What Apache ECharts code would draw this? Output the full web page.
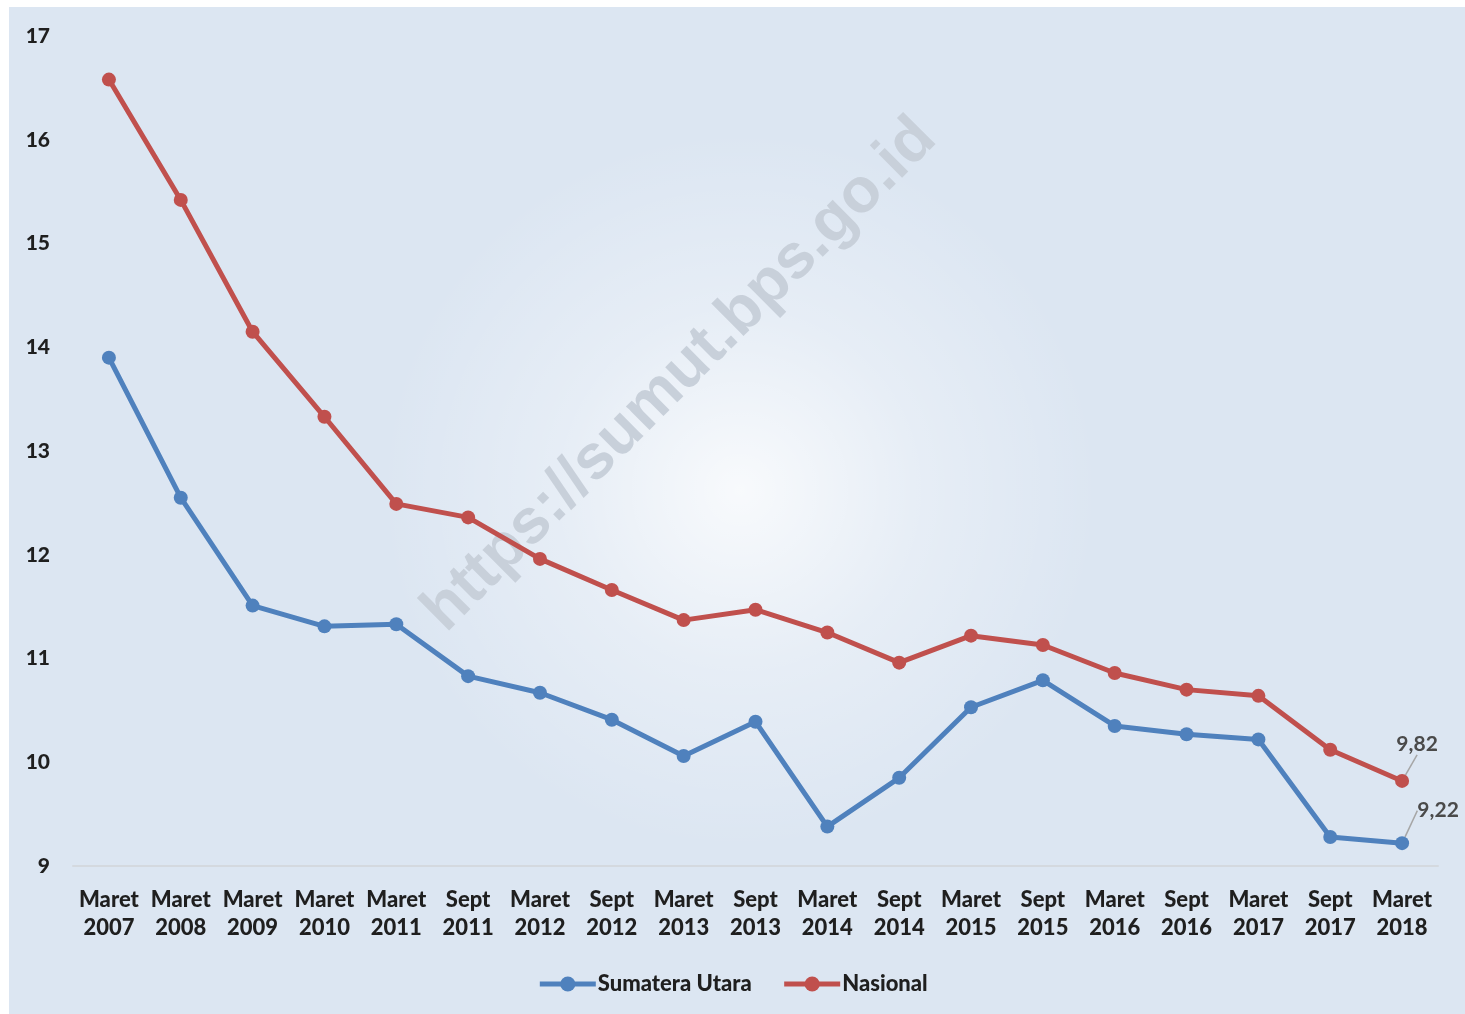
<!DOCTYPE html>
<html>
<head>
<meta charset="utf-8">
<title>Sumatera Utara vs Nasional</title>
<script src="https://cdn.jsdelivr.net/npm/echarts@6/dist/echarts.min.js"></script>
<style>
  html, body { margin: 0; padding: 0; background: #fff; }
  #chart { width: 1465px; height: 1014px; }
</style>
</head>
<body>
<div id="chart"></div>
<script>
// kategori periode
const periods = [
  'Maret\n2007', 'Maret\n2008', 'Maret\n2009', 'Maret\n2010', 'Maret\n2011', 'Sept\n2011',
  'Maret\n2012', 'Sept\n2012', 'Maret\n2013', 'Sept\n2013', 'Maret\n2014', 'Sept\n2014',
  'Maret\n2015', 'Sept\n2015', 'Maret\n2016', 'Sept\n2016', 'Maret\n2017', 'Sept\n2017',
  'Maret\n2018'
]
// persentase penduduk miskin
const sumut = [13.90, 12.55, 11.51, 11.31, 11.33, 10.83, 10.67, 10.41, 10.06, 10.39,
  9.38, 9.85, 10.53, 10.79, 10.35, 10.27, 10.22, 9.28, 9.22]
const nasional = [16.58, 15.42, 14.15, 13.33, 12.49, 12.36, 11.96, 11.66, 11.37, 11.47,
  11.25, 10.96, 11.22, 11.13, 10.86, 10.70, 10.64, 10.12, 9.82]

const FONT = 'Lato, "Open Sans", sans-serif'
const BLUE = '#4f81bd'
const RED = '#c0504d'

// hanya titik terakhir yang diberi label
function withLastLabel(arr) {
  return arr.map((v, i) => i === arr.length - 1
    ? { value: v, label: { show: true }, labelLine: { show: true } }
    : v)
}

const chart = echarts.init(document.getElementById('chart'))

chart.setOption({
  backgroundColor: '#ffffff',
  animation: false,
  graphic: [
    {
      type: 'rect',
      z: -20,
      shape: { x: 9, y: 7, width: 1465, height: 1014 },
      style: { fill: '#dce6f2' }
    },
    {
      type: 'circle',
      z: -19,
      shape: { cx: 740, cy: 490, r: 360 },
      style: {
        fill: {
          type: 'radial', x: 0.5, y: 0.5, r: 0.5,
          colorStops: [
            { offset: 0, color: 'rgba(255,255,255,0.8)' },
            { offset: 0.5, color: 'rgba(255,255,255,0.3)' },
            { offset: 1, color: 'rgba(255,255,255,0)' }
          ]
        }
      }
    },
    {
      // watermark
      type: 'text',
      z: -18,
      x: 680,
      y: 375,
      rotation: Math.PI / 4,
      style: {
        text: 'https://sumut.bps.go.id',
        font: 'bold 63px "Liberation Sans", Arial, sans-serif',
        fill: '#c8d0da',
        align: 'center',
        verticalAlign: 'middle'
      }
    }
  ],
  grid: {
    left: 73,
    right: 27,
    top: 36,
    bottom: 148
  },
  legend: {
    bottom: 14,
    left: 'center',
    itemWidth: 56,
    itemHeight: 19,
    itemGap: 30,
    lineStyle: { width: 5 },
    textStyle: {
      fontFamily: FONT,
      fontSize: 22,
      fontWeight: 900,
      color: '#1f1f1f',
      padding: [0, 0, 0, -3]
    },
    data: ['Sumatera Utara', 'Nasional']
  },
  xAxis: {
    type: 'category',
    boundaryGap: true,
    data: periods,
    axisLine: { lineStyle: { color: '#d4d9df', width: 2 } },
    axisTick: { show: false },
    axisLabel: {
      interval: 0,
      margin: 20,
      fontFamily: FONT,
      fontSize: 22,
      fontWeight: 900,
      lineHeight: 28,
      color: '#1f1f1f'
    }
  },
  yAxis: {
    type: 'value',
    min: 9,
    max: 17,
    interval: 1,
    axisLine: { show: false },
    axisTick: { show: false },
    splitLine: { show: false },
    axisLabel: {
      margin: 23,
      fontFamily: FONT,
      fontSize: 21,
      fontWeight: 900,
      color: '#1f1f1f'
    }
  },
  series: [
    {
      name: 'Sumatera Utara',
      type: 'line',
      data: withLastLabel(sumut),
      symbol: 'circle',
      symbolSize: 14,
      lineStyle: { color: BLUE, width: 5 },
      itemStyle: { color: BLUE },
      label: {
        show: false,
        position: 'top',
        fontFamily: FONT,
        fontSize: 21,
        fontWeight: 'bold',
        color: '#4a4a4a',
        formatter: p => p.value.toFixed(2).replace('.', ',')
      },
      labelLine: { lineStyle: { color: '#a6a6a6', width: 1.5 } },
      labelLayout: { dx: 36, dy: -10 }
    },
    {
      name: 'Nasional',
      type: 'line',
      data: withLastLabel(nasional),
      symbol: 'circle',
      symbolSize: 14,
      lineStyle: { color: RED, width: 5 },
      itemStyle: { color: RED },
      label: {
        show: false,
        position: 'top',
        fontFamily: FONT,
        fontSize: 21,
        fontWeight: 'bold',
        color: '#4a4a4a',
        formatter: p => p.value.toFixed(2).replace('.', ',')
      },
      labelLine: { lineStyle: { color: '#a6a6a6', width: 1.5 } },
      labelLayout: { dx: 15, dy: -14 }
    }
  ]
})
</script>
</body>
</html>
